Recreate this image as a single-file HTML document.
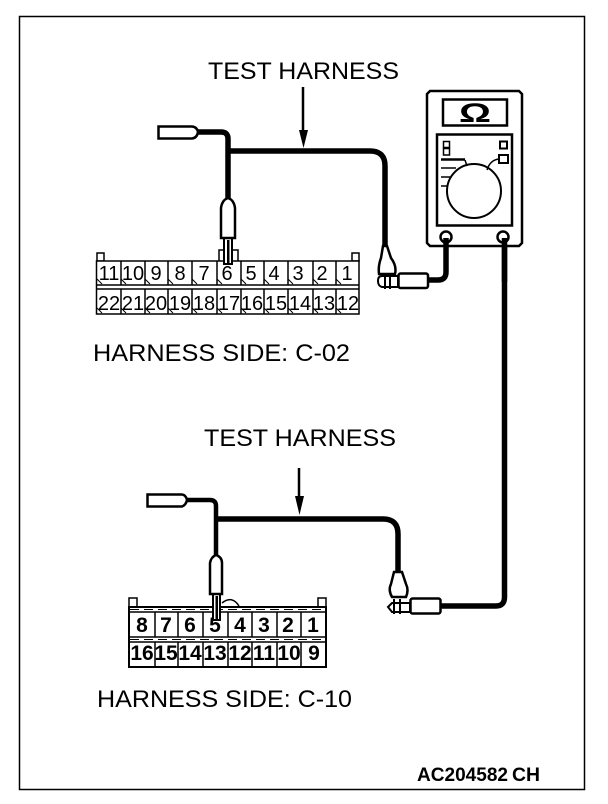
<!DOCTYPE html>
<html><head><meta charset="utf-8"><style>
html,body{margin:0;padding:0;background:#fff}
svg{display:block}
text{font-family:"Liberation Sans",sans-serif;fill:#000}
.l{font-size:24px}
.n{font-size:20px;text-anchor:middle}
.b{font-size:21px;text-anchor:middle;font-weight:bold}
</style></head><body>
<svg width="608" height="804" viewBox="0 0 608 804" xmlns="http://www.w3.org/2000/svg">
<rect x="19.5" y="16.5" width="565" height="773" fill="#fff" stroke="#000" stroke-width="1.500"/>

<text class="l" x="208" y="79" textLength="191" lengthAdjust="spacingAndGlyphs">TEST HARNESS</text>
<text class="l" x="204" y="446" textLength="192" lengthAdjust="spacingAndGlyphs">TEST HARNESS</text>
<text class="l" x="93" y="361" textLength="257" lengthAdjust="spacingAndGlyphs">HARNESS SIDE: C-02</text>
<text class="l" x="97" y="707" textLength="255" lengthAdjust="spacingAndGlyphs">HARNESS SIDE: C-10</text>
<text x="417" y="781" font-size="19.500" font-weight="bold" textLength="91" lengthAdjust="spacingAndGlyphs">AC204582</text>
<text x="512" y="781" font-size="19.500" font-weight="bold" textLength="28" lengthAdjust="spacingAndGlyphs">CH</text>

<!-- arrows -->
<path d="M303 87V132" stroke="#000" stroke-width="2.500" fill="none"/>
<path d="M299 130H308L303.500 148Z" fill="#000"/>
<path d="M299 468V504" stroke="#000" stroke-width="2.500" fill="none"/>
<path d="M295 496H304L299.500 515Z" fill="#000"/>

<!-- top wires -->
<g fill="none" stroke="#000" stroke-linejoin="round">
<path d="M196 132H221Q228 132 228 139V200" stroke-width="5.500"/>
<path d="M228 151H370Q385 151 385 166V246" stroke-width="5.500"/>
<path d="M446 240V272Q446 280 438 280H424" stroke-width="5.500"/>
<path d="M504.500 240V282" stroke-width="5.500"/>
</g>
<!-- top left plug -->
<path d="M158.500 126.500H192Q197 127 198 132Q197 138 192 138.500H158.500Z" fill="#fff" stroke="#000" stroke-width="2.500"/>
<!-- top connector -->
<g fill="#fff" stroke="#000" stroke-width="1.500">
<rect x="97" y="253" width="7" height="8"/>
<rect x="352" y="253" width="7" height="8"/>
<path d="M219 261V250H238V261" />
<rect x="96.500" y="261" width="262.500" height="53"/>
<path d="M96.500 285H359M96.500 289H359" fill="none"/>
<path d="M121 261V285M145 261V285M168 261V285M192 261V285M217 261V285M241 261V285M264 261V285M288 261V285M313 261V285M336 261V285M121 289V314M145 289V314M168 289V314M192 289V314M217 289V314M241 289V314M264 289V314M288 289V314M313 289V314M336 289V314" fill="none"/>
<path d="M97 279L102 284M121 279L126 284M145 279L150 284M168 279L173 284M192 279L197 284M217 279L222 284M241 279L246 284M264 279L269 284M288 279L293 284M313 279L318 284M336 279L341 284M97 308L102 313M121 308L126 313M145 308L150 313M168 308L173 313M192 308L197 313M217 308L222 313M241 308L246 313M264 308L269 313M288 308L293 313M313 308L318 313M336 308L341 313" fill="none" stroke-width="1"/>
</g>
<g>
<text class="n" x="109" y="280">11</text><text class="n" x="133" y="280">10</text><text class="n" x="156" y="280">9</text><text class="n" x="180" y="280">8</text><text class="n" x="204" y="280">7</text><text class="n" x="227" y="280">6</text><text class="n" x="251" y="280">5</text><text class="n" x="274" y="280">4</text><text class="n" x="298" y="280">3</text><text class="n" x="322" y="280">2</text><text class="n" x="347" y="280">1</text>
<text class="n" x="109" y="310">22</text><text class="n" x="133" y="310">21</text><text class="n" x="156" y="310">20</text><text class="n" x="180" y="310">19</text><text class="n" x="204" y="310">18</text><text class="n" x="229" y="310">17</text><text class="n" x="252" y="310">16</text><text class="n" x="276" y="310">15</text><text class="n" x="300" y="310">14</text><text class="n" x="324" y="310">13</text><text class="n" x="348" y="310">12</text>
</g>
<!-- top probe -->
<rect x="224" y="238" width="8" height="26" fill="#fff" stroke="#000" stroke-width="2"/>
<rect x="227" y="240" width="2.500" height="24" fill="#000"/>
<path d="M221 238V208Q222 200 228 198Q234 200 235 208V238Z" fill="#fff" stroke="#000" stroke-width="2.500"/>

<!-- right top plug -->
<path d="M379 274Q378 266 381 258L383 246H387L391 258Q397 266 395 274Z" fill="#fff" stroke="#000" stroke-width="2.500"/>
<path d="M378 281Q378 276 382 276H398V287H382Q378 286 378 281Z" fill="#fff" stroke="#000" stroke-width="2"/>
<path d="M385 274V289M390 274V289" fill="none" stroke="#000" stroke-width="2"/>
<rect x="398.500" y="273.500" width="29.500" height="14.500" rx="2" fill="#fff" stroke="#000" stroke-width="2.500"/>

<!-- meter -->
<path d="M430 91H519L522 94V243L519 246H430L427 243V94Z" fill="#fff" stroke="#000" stroke-width="2.500"/>
<rect x="443" y="99.500" width="64" height="26" fill="#fff" stroke="#000" stroke-width="2.500"/>
<text x="459" y="122" font-size="27" font-weight="bold" textLength="32" lengthAdjust="spacingAndGlyphs">Ω</text>
<rect x="437" y="134.500" width="75" height="91" fill="#fff" stroke="#000" stroke-width="2.500"/>
<g fill="none" stroke="#000" stroke-width="1.500">
<rect x="443.500" y="141.500" width="6" height="6"/><rect x="443.500" y="148.500" width="6" height="6.500"/>
<rect x="500" y="141.500" width="7" height="7" stroke-width="2"/>
<rect x="499" y="155" width="9" height="8" stroke-width="2"/>
<path d="M487 170Q490 160 499 159"/>
<path d="M465 160L467 166M441 168H456M441 177H450M441 186H447" />
<path d="M441 159.500H465" stroke-width="2.500"/>
<circle cx="474" cy="191" r="27" stroke-width="2"/>
</g>
<circle cx="446" cy="237" r="5.500" fill="#fff" stroke="#000" stroke-width="2.500"/>
<circle cx="503" cy="237" r="5.500" fill="#fff" stroke="#000" stroke-width="2.500"/>
<path d="M446 238V245M504.500 238V245" stroke="#000" stroke-width="5.500"/>

<!-- bottom wires -->
<g fill="none" stroke="#000" stroke-linejoin="round">
<path d="M186 500H210Q216 500 216 506V556" stroke-width="4.500"/>
<path d="M216 519H383Q398 519 398 534V572" stroke-width="5.500"/>
<path d="M504.500 245V597Q504.500 606 496 606H440" stroke-width="5.500"/>
</g>
<path d="M147.500 494.500H182Q186 495 187 500Q186 505 182 506.500H147.500Z" fill="#fff" stroke="#000" stroke-width="2.500"/>

<!-- bottom connector -->
<g fill="#fff" stroke="#000" stroke-width="1.500">
<rect x="129" y="598" width="8" height="9"/>
<rect x="318" y="598" width="8" height="9"/>
<path d="M222 603Q232 595 239 606" fill="none"/>
<rect x="129" y="607" width="197" height="60" stroke-width="2"/>
</g>
<path d="M129 612H326M129 637H326M129 642H326" stroke="#000" stroke-width="1.500" fill="none"/>
<path d="M130 609.500H325M130 639.500H325" stroke="#000" stroke-width="1" stroke-dasharray="9 5" fill="none"/>
<path d="M155 612V637M178 612V637M203 612V637M228 612V637M252 612V637M277 612V637M301 612V637M155 642V667M178 642V667M203 642V667M228 642V667M252 642V667M277 642V667M301 642V667" stroke="#000" stroke-width="1.500"/>
<g>
<text class="b" x="142" y="632">8</text><text class="b" x="166" y="632">7</text><text class="b" x="190" y="632">6</text><text class="b" x="215" y="632">5</text><text class="b" x="240" y="632">4</text><text class="b" x="264" y="632">3</text><text class="b" x="288" y="632">2</text><text class="b" x="313" y="632">1</text>
<text class="b" x="142" y="660">16</text><text class="b" x="166" y="660">15</text><text class="b" x="190" y="660">14</text><text class="b" x="215" y="660">13</text><text class="b" x="240" y="660">12</text><text class="b" x="264" y="660">11</text><text class="b" x="289" y="660">10</text><text class="b" x="314" y="660">9</text>
</g>
<!-- bottom probe -->
<rect x="213" y="594" width="7" height="26" fill="#fff" stroke="#000" stroke-width="2"/>
<rect x="215.500" y="596" width="2.500" height="23" fill="#000"/>
<path d="M210 594V563Q211 557 216 555Q222 557 222 563V594Z" fill="#fff" stroke="#000" stroke-width="2.500"/>

<!-- bottom right plug -->
<path d="M392 597Q388 590 391 584L394 572H402L406 584Q409 590 406 597Z" fill="#fff" stroke="#000" stroke-width="2.500"/>
<path d="M388 607L392 603H410V612H392Z" fill="#fff" stroke="#000" stroke-width="2"/>
<path d="M394 599V614M400 599V614" fill="none" stroke="#000" stroke-width="2"/>
<rect x="410.500" y="598.500" width="30" height="15" rx="2" fill="#fff" stroke="#000" stroke-width="2.500"/>
</svg>
</body></html>
